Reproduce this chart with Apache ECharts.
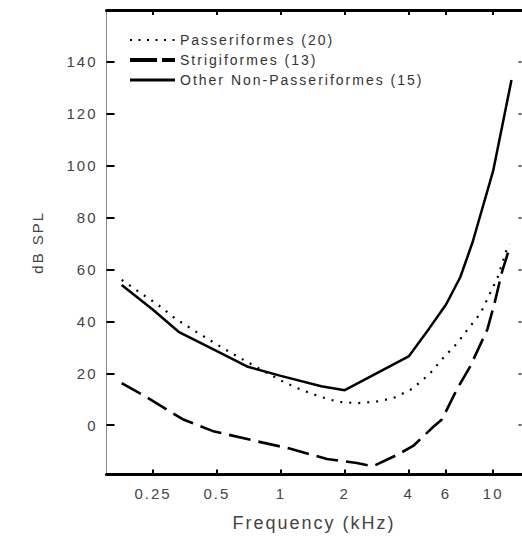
<!DOCTYPE html>
<html><head><meta charset="utf-8">
<script src="https://cdn.jsdelivr.net/npm/echarts@6/dist/echarts.min.js"></script>
<style>
html,body{margin:0;padding:0;background:#fff;}
#c{width:522px;height:540px;}
#c text{letter-spacing:2px;}
</style></head><body><div id="c"></div>
<script>
// Passeriformes (dotted)
const freqPass = [0.178, 0.218, 0.263, 0.32, 0.39, 0.48, 0.58, 0.69, 1.04, 1.26, 1.53, 1.86, 2.28, 2.78, 3.38, 4.15, 5.0, 5.8, 6.75, 7.6, 8.7, 9.7, 10.5, 11.0, 11.5, 11.9];
const dbPass   = [56, 51, 46.5, 41, 36.5, 32, 28, 24.5, 16.5, 13.5, 11, 9, 8.5, 9, 10.4, 14, 19.6, 25.8, 31.5, 37, 43, 51, 57, 62, 67, 70];
// Strigiformes (dashed)
const freqStrig = [0.178, 0.233, 0.345, 0.48, 0.77, 1.1, 1.65, 2.28, 2.72, 3.52, 4.2, 5.2, 5.75, 6.75, 7.8, 9.4, 10.2, 11.0, 11.8];
const dbStrig   = [16.2, 10.8, 2.3, -2.3, -6.2, -9, -13, -14.6, -15.8, -11.5, -8, -0.8, 2.3, 13.8, 22.7, 37, 47.7, 59, 67];
// Other Non-Passeriformes (solid)
const freqOther = [0.178, 0.25, 0.33, 0.5, 0.7, 1, 1.55, 2, 4, 5, 6, 7, 8, 10, 12.2];
const dbOther   = [54, 44.5, 36, 28.5, 22.5, 19, 15, 13.5, 26.5, 37.3, 46.5, 57, 70.5, 98, 133];

const seriesNames = ['Passeriformes (20)', 'Strigiformes (13)', 'Other Non-Passeriformes (15)'];
const xTicks = [0.25, 0.5, 1, 2, 4, 6, 10];
const yTicks = [0, 20, 40, 60, 80, 100, 120, 140];
const xMin = 0.151, xMax = 13.6, yMin = -19, yMax = 160;

const pairs = (f, v) => f.map((x, i) => [x, v[i]]);
const font = 'Liberation Sans';
const chart = echarts.init(document.getElementById('c'), null, {renderer: 'svg'});

const option = {
  animation: false,
  backgroundColor: '#fff',
  grid: {left: 106.5, right: 0.5, top: 10, bottom: 65.5},
  legend: {
    orient: 'vertical', left: 128, top: 33, padding: 0,
    itemWidth: 45, itemHeight: 14, itemGap: 6,
    itemStyle: {color: 'rgba(0,0,0,0)', borderWidth: 0},
    textStyle: {fontFamily: font, fontSize: 14, color: '#333'},
    data: [
      {name: seriesNames[0], lineStyle: {width: 2, type: [2, 6.5]}},
      {name: seriesNames[1], lineStyle: {width: 4, type: [27, 5]}},
      {name: seriesNames[2], lineStyle: {width: 2.8}}
    ]
  },
  xAxis: [{
    type: 'log', logBase: 2, min: xMin, max: xMax, position: 'bottom',
    axisLine: {show: true, onZero: false, lineStyle: {color: '#000', width: 3}},
    axisTick: {show: true, inside: true, length: 5, customValues: xTicks, lineStyle: {color: '#000', width: 2}},
    axisLabel: {customValues: xTicks, margin: 11, fontFamily: font, fontSize: 15, color: '#444'},
    splitLine: {show: false}, minorTick: {show: false},
    name: 'Frequency (kHz)', nameLocation: 'middle', nameGap: 39,
    nameTextStyle: {fontFamily: font, fontSize: 18, color: '#444'}
  }, {
    type: 'log', logBase: 2, min: xMin, max: xMax, position: 'top',
    axisLine: {show: true, onZero: false, lineStyle: {color: '#000', width: 3}},
    axisTick: {show: true, inside: true, length: 5, customValues: xTicks, lineStyle: {color: '#000', width: 2}},
    axisLabel: {show: false}, splitLine: {show: false}
  }],
  yAxis: [{
    type: 'value', min: yMin, max: yMax, position: 'left',
    axisLine: {show: true, onZero: false, lineStyle: {color: '#888', width: 1}},
    axisTick: {show: true, inside: true, length: 8, customValues: yTicks, lineStyle: {color: '#000', width: 2}},
    axisLabel: {customValues: yTicks, margin: 9, fontFamily: font, fontSize: 15, color: '#444'},
    splitLine: {show: false},
    name: 'dB SPL', nameLocation: 'middle', nameGap: 62, nameRotate: 90,
    nameTextStyle: {fontFamily: font, fontSize: 15, color: '#444'}
  }, {
    type: 'value', min: yMin, max: yMax, position: 'right',
    axisLine: {show: false, onZero: false},
    axisTick: {show: true, inside: true, length: 3, customValues: yTicks, lineStyle: {color: '#333', width: 1.5}},
    axisLabel: {show: false}, splitLine: {show: false}
  }],
  series: [{
    name: seriesNames[0], type: 'line', data: pairs(freqPass, dbPass),
    symbol: 'none', color: '#000', lineStyle: {color: '#000', width: 2.2, type: [2, 7]}
  }, {
    name: seriesNames[1], type: 'line', data: pairs(freqStrig, dbStrig),
    symbol: 'none', color: '#000', lineStyle: {color: '#000', width: 2.6, type: [22, 8]}
  }, {
    name: seriesNames[2], type: 'line', data: pairs(freqOther, dbOther),
    symbol: 'none', color: '#000', lineStyle: {color: '#000', width: 2.5}
  }]
};
chart.setOption(option);
</script></body></html>
